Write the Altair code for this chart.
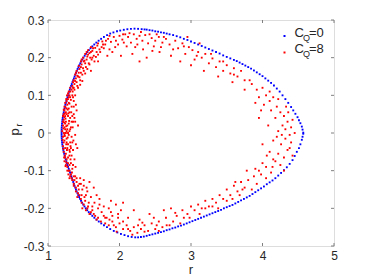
import altair as alt
import pandas as pd

# ---------------- data ----------------
x_ticks = [1, 2, 3, 4, 5]
y_ticks = [-0.3, -0.2, -0.1, 0.0, 0.1, 0.2, 0.3]

# C_Q = 0 : closed orbit (blue)
blue_upper_left = [
    (1.190, 0.000), (1.190, 0.005), (1.191, 0.010), (1.192, 0.015), (1.194, 0.020), (1.196, 0.025),
    (1.199, 0.030), (1.202, 0.035), (1.206, 0.040), (1.210, 0.045), (1.215, 0.050), (1.220, 0.055),
    (1.225, 0.060), (1.231, 0.065), (1.237, 0.070), (1.243, 0.075), (1.250, 0.080), (1.257, 0.085),
    (1.264, 0.090), (1.272, 0.095), (1.280, 0.100), (1.288, 0.105), (1.296, 0.110), (1.305, 0.115),
    (1.314, 0.120), (1.323, 0.125), (1.332, 0.130), (1.342, 0.135), (1.352, 0.140), (1.362, 0.145),
    (1.372, 0.150), (1.382, 0.155), (1.392, 0.160), (1.403, 0.165), (1.414, 0.170), (1.426, 0.175),
    (1.438, 0.180), (1.451, 0.185), (1.465, 0.190), (1.480, 0.195), (1.496, 0.200), (1.513, 0.205),
    (1.531, 0.210), (1.551, 0.215), (1.572, 0.220), (1.595, 0.225), (1.620, 0.230), (1.647, 0.235),
    (1.676, 0.240), (1.708, 0.245), (1.743, 0.250), (1.782, 0.255), (1.826, 0.260), (1.870, 0.264),
    (1.915, 0.267), (1.965, 0.270), (2.010, 0.272), (2.060, 0.274), (2.110, 0.2755), (2.160, 0.2765),
    (2.210, 0.277), (2.260, 0.2765), (2.310, 0.2757), (2.350, 0.2750),
]
blue_upper_right = [
    (2.38, 0.2745), (2.42, 0.273), (2.46, 0.272), (2.50, 0.270), (2.54, 0.269), (2.58, 0.267),
    (2.62, 0.266), (2.66, 0.264), (2.70, 0.262), (2.75, 0.260), (2.80, 0.257), (2.85, 0.254),
    (2.90, 0.250), (2.95, 0.247), (3.00, 0.243), (3.05, 0.239), (3.10, 0.235), (3.15, 0.231),
    (3.20, 0.227), (3.25, 0.223), (3.30, 0.219), (3.35, 0.215), (3.40, 0.211), (3.45, 0.206),
    (3.50, 0.202), (3.55, 0.198), (3.60, 0.194), (3.64, 0.191), (3.68, 0.187), (3.72, 0.183),
    (3.76, 0.179), (3.80, 0.175), (3.84, 0.171), (3.88, 0.166), (3.92, 0.161), (3.96, 0.156),
    (4.00, 0.151), (4.04, 0.145), (4.08, 0.139), (4.12, 0.133), (4.16, 0.126), (4.20, 0.118),
    (4.24, 0.110), (4.28, 0.100), (4.32, 0.090), (4.36, 0.080), (4.40, 0.069), (4.43, 0.060),
    (4.46, 0.051), (4.49, 0.042), (4.51, 0.034), (4.53, 0.026), (4.55, 0.017), (4.56, 0.009),
    (4.57, 0.001),
]
blue_lower_right = [
    (4.57, -0.002), (4.56, -0.010), (4.55, -0.018), (4.53, -0.030), (4.51, -0.040), (4.48, -0.050),
    (4.45, -0.061), (4.42, -0.072), (4.38, -0.082), (4.34, -0.091), (4.30, -0.099), (4.26, -0.106),
    (4.22, -0.113), (4.18, -0.120), (4.14, -0.126), (4.10, -0.131), (4.06, -0.136), (4.02, -0.142),
    (3.98, -0.147), (3.94, -0.152), (3.90, -0.157), (3.86, -0.162), (3.82, -0.167), (3.78, -0.171),
    (3.74, -0.175), (3.70, -0.179), (3.66, -0.183), (3.62, -0.187), (3.58, -0.191), (3.54, -0.194),
    (3.50, -0.197), (3.46, -0.200), (3.42, -0.204), (3.38, -0.207), (3.34, -0.210), (3.30, -0.213),
    (3.26, -0.216), (3.22, -0.219), (3.18, -0.222), (3.14, -0.225), (3.10, -0.228), (3.06, -0.231),
    (3.02, -0.234), (2.98, -0.237), (2.94, -0.240), (2.90, -0.243), (2.86, -0.246), (2.82, -0.248),
    (2.78, -0.251), (2.74, -0.253), (2.70, -0.256), (2.66, -0.258), (2.62, -0.261), (2.58, -0.263),
    (2.54, -0.265), (2.50, -0.267), (2.46, -0.269), (2.42, -0.271), (2.38, -0.273), (2.34, -0.275),
    (2.30, -0.276), (2.26, -0.277), (2.22, -0.277),
]
blue_lower_left = [
    (2.170, -0.276), (2.120, -0.274), (2.070, -0.271), (2.020, -0.268), (1.970, -0.264), (1.920, -0.260),
    (1.870, -0.255), (1.825, -0.250), (1.783, -0.245), (1.745, -0.240), (1.710, -0.235), (1.678, -0.230),
    (1.648, -0.225), (1.620, -0.220), (1.594, -0.215), (1.570, -0.210), (1.548, -0.205), (1.528, -0.200),
    (1.510, -0.195), (1.493, -0.190), (1.477, -0.185), (1.462, -0.180), (1.448, -0.175), (1.435, -0.170),
    (1.423, -0.165), (1.412, -0.160), (1.401, -0.155), (1.391, -0.150), (1.381, -0.145), (1.371, -0.140),
    (1.362, -0.135), (1.353, -0.130), (1.344, -0.125), (1.335, -0.120), (1.326, -0.115), (1.317, -0.110),
    (1.308, -0.105), (1.299, -0.100), (1.290, -0.095), (1.281, -0.090), (1.272, -0.085), (1.264, -0.080),
    (1.256, -0.075), (1.248, -0.070), (1.240, -0.065), (1.233, -0.060), (1.226, -0.055), (1.220, -0.050),
    (1.214, -0.045), (1.209, -0.040), (1.204, -0.035), (1.200, -0.030), (1.197, -0.025), (1.194, -0.020),
    (1.192, -0.015), (1.191, -0.010), (1.190, -0.005),
]

# C_Q = 8 : scattered points (red)
red_left = [
    (1.22, 0.00), (1.24, 0.01), (1.21, -0.01), (1.27, 0.02), (1.23, -0.02), (1.30, 0.005), (1.25, 0.03),
    (1.22, 0.035), (1.28, -0.03), (1.33, -0.01), (1.24, -0.04), (1.21, 0.045), (1.26, 0.05), (1.31, 0.04),
    (1.23, 0.06), (1.29, 0.065), (1.35, 0.03), (1.25, -0.055), (1.22, -0.05), (1.30, -0.06), (1.27, 0.075),
    (1.24, 0.08), (1.33, 0.07), (1.26, -0.07), (1.23, -0.075), (1.32, -0.08), (1.28, 0.09), (1.36, 0.085),
    (1.30, 0.10), (1.27, -0.09), (1.34, -0.095), (1.29, -0.10), (1.31, 0.11), (1.38, 0.10), (1.33, 0.115),
    (1.32, -0.11), (1.36, -0.115), (1.30, -0.12), (1.23, 0.015), (1.26, -0.015), (1.29, 0.025),
    (1.22, -0.025), (1.25, 0.055), (1.28, 0.045), (1.35, -0.045), (1.24, 0.025), (1.32, 0.015),
    (1.21, 0.02), (1.27, -0.04), (1.31, -0.025), (1.38, -0.005), (1.23, 0.07), (1.26, 0.085), (1.29, 0.08),
    (1.25, -0.085), (1.28, -0.065), (1.33, -0.06), (1.40, 0.06), (1.37, -0.07), (1.28, 0.105),
    (1.31, 0.095), (1.30, -0.085), (1.35, 0.12), (1.34, -0.125), (1.26, 0.065), (1.24, -0.065),
    (1.22, 0.05), (1.21, -0.035), (1.42, 0.02), (1.39, -0.03), (1.27, 0.01), (1.29, -0.005), (1.25, 0.0),
    (1.24, 0.045), (1.30, 0.055), (1.26, -0.025), (1.34, 0.045), (1.36, 0.05), (1.23, -0.005), (1.32, -0.04),
    (1.20, 0.005), (1.215, 0.012), (1.235, -0.008), (1.255, 0.018), (1.275, -0.012), (1.295, 0.032),
    (1.315, -0.035), (1.245, 0.038), (1.265, -0.045), (1.225, 0.028), (1.205, -0.018), (1.285, 0.052),
    (1.305, -0.05), (1.345, 0.015), (1.325, 0.055), (1.355, -0.02), (1.37, 0.04), (1.235, 0.052),
    (1.215, -0.042), (1.255, -0.03), (1.245, 0.068), (1.275, 0.062), (1.30, 0.078), (1.32, 0.088),
    (1.255, 0.09), (1.29, 0.095), (1.34, 0.10), (1.31, 0.12), (1.345, 0.11), (1.37, 0.115),
    (1.235, -0.06), (1.255, -0.078), (1.28, -0.08), (1.30, -0.10), (1.27, -0.10), (1.315, -0.07),
    (1.35, -0.085), (1.335, -0.105), (1.31, -0.115), (1.285, -0.11), (1.22, 0.062), (1.24, 0.0),
    (1.26, 0.005), (1.28, 0.0), (1.31, 0.01), (1.34, -0.025), (1.36, 0.07), (1.38, 0.03), (1.41, -0.04),
    (1.39, 0.075), (1.35, 0.095), (1.385, -0.09), (1.21, 0.03), (1.23, 0.042), (1.225, -0.065),
    (1.245, -0.088), (1.265, 0.10), (1.29, 0.11), (1.30, -0.045), (1.33, 0.03),
]
red_upper_left = [
    (1.34, 0.125), (1.37, 0.13), (1.41, 0.125), (1.36, 0.14), (1.39, 0.145), (1.45, 0.14), (1.38, 0.155),
    (1.42, 0.15), (1.48, 0.155), (1.40, 0.165), (1.44, 0.17), (1.50, 0.165), (1.43, 0.178), (1.47, 0.182),
    (1.53, 0.175), (1.46, 0.19), (1.51, 0.192), (1.57, 0.185), (1.49, 0.20), (1.55, 0.203), (1.61, 0.195),
    (1.52, 0.21), (1.58, 0.212), (1.64, 0.205), (1.56, 0.22), (1.62, 0.218), (1.68, 0.215), (1.60, 0.228),
    (1.66, 0.226), (1.72, 0.222), (1.35, 0.135), (1.43, 0.16), (1.40, 0.135), (1.52, 0.185), (1.46, 0.16),
    (1.59, 0.20), (1.70, 0.208), (1.65, 0.19), (1.55, 0.17), (1.48, 0.138), (1.42, 0.12), (1.75, 0.228),
    (1.36, 0.12), (1.38, 0.138), (1.41, 0.152), (1.44, 0.148), (1.46, 0.175), (1.49, 0.172), (1.50, 0.19),
    (1.54, 0.195), (1.56, 0.208), (1.60, 0.215), (1.63, 0.225), (1.69, 0.232), (1.58, 0.182), (1.62, 0.20),
    (1.67, 0.202), (1.52, 0.158), (1.45, 0.128), (1.73, 0.215), (1.77, 0.235), (1.81, 0.245), (1.39, 0.16),
    (1.47, 0.195), (1.54, 0.215), (1.70, 0.19), (1.60, 0.165),
]
red_top = [
    (1.70, 0.238), (1.76, 0.243), (1.80, 0.235), (1.84, 0.25), (1.88, 0.242), (1.92, 0.255), (1.78, 0.225),
    (1.86, 0.222), (1.95, 0.245), (2.00, 0.258), (2.04, 0.248), (2.08, 0.262), (1.98, 0.235), (2.12, 0.255),
    (2.16, 0.24), (2.20, 0.262), (2.24, 0.25), (2.28, 0.258), (2.32, 0.245), (2.36, 0.26), (2.40, 0.238),
    (2.45, 0.252), (2.50, 0.245), (2.55, 0.255), (2.60, 0.24), (2.10, 0.23), (2.25, 0.235), (2.33, 0.222),
    (2.48, 0.23), (2.18, 0.21), (1.90, 0.215), (2.02, 0.205), (2.38, 0.20), (2.56, 0.215), (2.28, 0.19),
    (1.83, 0.205), (2.14, 0.265), (2.42, 0.262), (1.94, 0.228), (2.06, 0.24), (2.22, 0.228), (2.30, 0.268),
    (2.52, 0.262), (2.62, 0.255), (2.05, 0.262), (1.86, 0.258), (2.46, 0.218), (2.58, 0.228),
]
red_upper_right = [
    (2.65, 0.25), (2.70, 0.235), (2.78, 0.245), (2.82, 0.225), (2.88, 0.238), (2.92, 0.21), (2.97, 0.228),
    (3.02, 0.22), (3.05, 0.195), (3.10, 0.215), (3.15, 0.20), (3.20, 0.21), (3.25, 0.185), (3.30, 0.198),
    (3.35, 0.175), (3.40, 0.19), (3.45, 0.165), (3.50, 0.18), (3.55, 0.158), (3.60, 0.172), (3.65, 0.15),
    (2.85, 0.19), (3.00, 0.18), (3.18, 0.165), (2.72, 0.205), (3.38, 0.15), (3.58, 0.135), (2.95, 0.255),
    (3.12, 0.238), (2.75, 0.222), (2.90, 0.23), (3.08, 0.205), (3.28, 0.21), (3.45, 0.19), (3.60, 0.155),
    (3.70, 0.165), (3.75, 0.14),
]
red_right = [
    (3.85, 0.13), (3.92, 0.115), (4.00, 0.12), (3.95, 0.095), (4.05, 0.10), (4.10, 0.085), (4.15, 0.095),
    (4.02, 0.075), (4.20, 0.07), (4.12, 0.06), (4.25, 0.055), (4.30, 0.045), (4.18, 0.04), (4.35, 0.03),
    (4.28, 0.02), (4.40, 0.015), (4.22, 0.005), (4.38, -0.005), (4.45, 0.0), (4.32, -0.015), (4.26, -0.03),
    (4.40, -0.025), (4.15, -0.02), (4.35, -0.045), (4.22, -0.055), (4.30, -0.065), (4.10, -0.05),
    (4.18, -0.075), (4.25, -0.085), (4.05, -0.09), (4.12, -0.105), (3.98, -0.11), (4.08, 0.02),
    (4.00, -0.03), (3.95, 0.04), (4.33, 0.07), (4.42, -0.06), (3.90, 0.08), (4.36, 0.055), (4.27, -0.005),
    (4.20, -0.01), (4.32, 0.01), (4.42, 0.035), (4.10, 0.11), (3.98, 0.06), (4.22, 0.09), (4.38, -0.04),
    (4.14, -0.09), (3.82, 0.14), (3.75, 0.115), (4.06, -0.06), (4.30, -0.10),
]
red_lower_right = [
    (3.95, -0.10), (4.05, -0.12), (3.88, -0.115), (3.92, -0.135), (3.80, -0.125), (3.75, -0.145),
    (3.85, -0.15), (3.70, -0.13), (3.65, -0.155), (3.60, -0.14), (3.55, -0.165), (3.50, -0.15),
    (3.45, -0.175), (3.40, -0.165), (3.35, -0.185), (3.30, -0.175), (3.25, -0.195), (3.20, -0.18),
    (3.15, -0.20), (3.10, -0.19), (3.05, -0.205), (3.00, -0.195), (2.95, -0.215), (4.15, -0.07),
    (4.00, -0.08), (3.78, -0.10), (3.68, -0.165), (3.38, -0.20), (3.12, -0.215), (3.58, -0.175),
    (3.30, -0.195), (3.50, -0.18), (3.72, -0.15), (3.90, -0.095), (3.20, -0.20), (2.98, -0.225),
    (3.62, -0.13),
]
red_bottom = [
    (2.90, -0.225), (2.85, -0.24), (2.80, -0.22), (2.75, -0.235), (2.70, -0.245), (2.65, -0.225),
    (2.60, -0.25), (2.55, -0.235), (2.50, -0.255), (2.45, -0.24), (2.40, -0.26), (2.35, -0.245),
    (2.30, -0.255), (2.25, -0.265), (2.20, -0.25), (2.15, -0.26), (2.10, -0.245), (2.05, -0.255),
    (2.00, -0.24), (1.95, -0.25), (1.90, -0.235), (1.85, -0.245), (1.80, -0.225), (2.62, -0.205),
    (2.28, -0.23), (2.12, -0.225), (1.98, -0.215), (2.42, -0.215), (2.72, -0.20), (2.20, -0.205),
    (1.88, -0.21), (2.05, -0.235), (2.35, -0.262), (2.55, -0.26), (2.18, -0.27), (2.32, -0.238),
    (2.48, -0.225), (2.66, -0.245), (2.78, -0.212), (2.88, -0.205), (2.52, -0.245), (2.12, -0.255),
    (1.96, -0.262), (2.26, -0.245),
]
red_lower_left = [
    (1.37, -0.125), (1.40, -0.13), (1.45, -0.12), (1.39, -0.145), (1.43, -0.15), (1.50, -0.14),
    (1.42, -0.16), (1.47, -0.165), (1.55, -0.155), (1.46, -0.175), (1.52, -0.18), (1.60, -0.17),
    (1.50, -0.19), (1.56, -0.195), (1.65, -0.185), (1.53, -0.205), (1.60, -0.21), (1.70, -0.20),
    (1.58, -0.215), (1.66, -0.22), (1.75, -0.21), (1.68, -0.23), (1.74, -0.235), (1.82, -0.225),
    (1.44, -0.135), (1.48, -0.15), (1.58, -0.13), (1.53, -0.165), (1.62, -0.195), (1.72, -0.175),
    (1.78, -0.195), (1.85, -0.20), (1.95, -0.19), (2.05, -0.185), (1.41, -0.17), (1.38, -0.115),
    (1.48, -0.20), (1.36, -0.135), (1.64, -0.145), (1.90, -0.22), (1.33, -0.12), (1.36, -0.14),
    (1.39, -0.155), (1.42, -0.14), (1.44, -0.165), (1.47, -0.185), (1.51, -0.17), (1.55, -0.20),
    (1.57, -0.185), (1.62, -0.205), (1.64, -0.215), (1.70, -0.225), (1.72, -0.19), (1.78, -0.22),
    (1.80, -0.24), (1.86, -0.23), (1.92, -0.245), (1.50, -0.125), (1.54, -0.145), (1.68, -0.165),
    (1.40, -0.12), (1.46, -0.135), (1.88, -0.18), (1.98, -0.225), (2.02, -0.205),
]

blue_pts = blue_upper_left + blue_upper_right + blue_lower_right + blue_lower_left
red_pts = (red_left + red_upper_left + red_top + red_upper_right + red_right
           + red_lower_right + red_bottom + red_lower_left)

df = pd.DataFrame(
    [(r, p, "C_Q=0", 0) for r, p in blue_pts] + [(r, p, "C_Q=8", 1) for r, p in red_pts],
    columns=["r", "p", "series", "k"],
)

W, H = 286, 226
FONT = "Liberation Sans"
AXIS_GRAY = "#808080"
TEXT = "#262626"

xscale = alt.Scale(domain=[1, 5], nice=False, zero=False)
yscale = alt.Scale(domain=[-0.3, 0.3], nice=False, zero=False)

X_AXIS = alt.Axis(values=x_ticks, ticks=False, domain=False, grid=False, title=None,
                  format="d", labelOverlap=False,
                  labelFont=FONT, labelFontSize=12, labelColor=TEXT, labelPadding=4,
                  labelFlush=False)
Y_AXIS = alt.Axis(values=y_ticks, ticks=False, domain=False, grid=False, title=None,
                  labelOverlap=False,
                  labelFont=FONT, labelFontSize=12, labelColor=TEXT, labelPadding=4,
                  labelFlush=False,
                  labelExpr="datum.value == 0 ? '0' : toString(round(datum.value*10)/10)")

points = alt.Chart(df).mark_square(size=3.5, opacity=1).encode(
    x=alt.X("r:Q", scale=xscale, axis=X_AXIS),
    y=alt.Y("p:Q", scale=yscale, axis=Y_AXIS),
    color=alt.Color("series:N", scale=alt.Scale(domain=["C_Q=0", "C_Q=8"], range=["#0000ff", "#ff0000"]),
                    legend=None),
    order=alt.Order("k:Q", sort="ascending"),
)

xt = pd.DataFrame({"v": x_ticks})
yt = pd.DataFrame({"v": y_ticks})
tick_len = 3
xb = alt.Chart(xt).mark_rule(color=AXIS_GRAY, strokeWidth=1).encode(
    x=alt.X("v:Q", scale=xscale, axis=X_AXIS), y=alt.value(H), y2=alt.value(H - tick_len))
xtop = alt.Chart(xt).mark_rule(color=AXIS_GRAY, strokeWidth=1).encode(
    x=alt.X("v:Q", scale=xscale, axis=X_AXIS), y=alt.value(0), y2=alt.value(tick_len))
yl = alt.Chart(yt).mark_rule(color=AXIS_GRAY, strokeWidth=1).encode(
    y=alt.Y("v:Q", scale=yscale, axis=Y_AXIS), x=alt.value(0), x2=alt.value(tick_len))
yr = alt.Chart(yt).mark_rule(color=AXIS_GRAY, strokeWidth=1).encode(
    y=alt.Y("v:Q", scale=yscale, axis=Y_AXIS), x=alt.value(W), x2=alt.value(W - tick_len))

one = pd.DataFrame({"a": [0]})

def txt(s, x, y, size=13, align="left", angle=0, baseline="alphabetic"):
    return alt.Chart(one).mark_text(text=s, font=FONT, fontSize=size, color=TEXT, align=align,
                                    baseline=baseline, angle=angle).encode(
        x=alt.value(x), y=alt.value(y))

def dot(x, y, c):
    return alt.Chart(one).mark_square(size=4, color=c, opacity=1).encode(x=alt.value(x), y=alt.value(y))

legend = [
    dot(236.5, 16, "#0000ff"), txt("C", 246.5, 16.8), txt("Q", 255, 20.8, size=9), txt("=0", 261, 16.8),
    dot(236.5, 32.5, "#ff0000"), txt("C", 246.5, 33.2), txt("Q", 255, 37.2, size=9), txt("=8", 261, 33.2),
]

titles = [
    txt("r", 143, 254, size=13, align="center"),
    txt("p", -29, 112, size=13, align="center", angle=270),
    txt("r", -26, 105, size=9, align="center", angle=270),
]

chart = alt.layer(points, xb, xtop, yl, yr, *legend, *titles).properties(
    width=W, height=H,
    autosize=alt.AutoSizeParams(type="none"),
    padding={"left": 40, "top": 12, "right": 27, "bottom": 31},
).configure_view(stroke=AXIS_GRAY, strokeWidth=1).configure(background="white")

chart.save("out.html", embed_options={"renderer": "svg", "actions": False})
